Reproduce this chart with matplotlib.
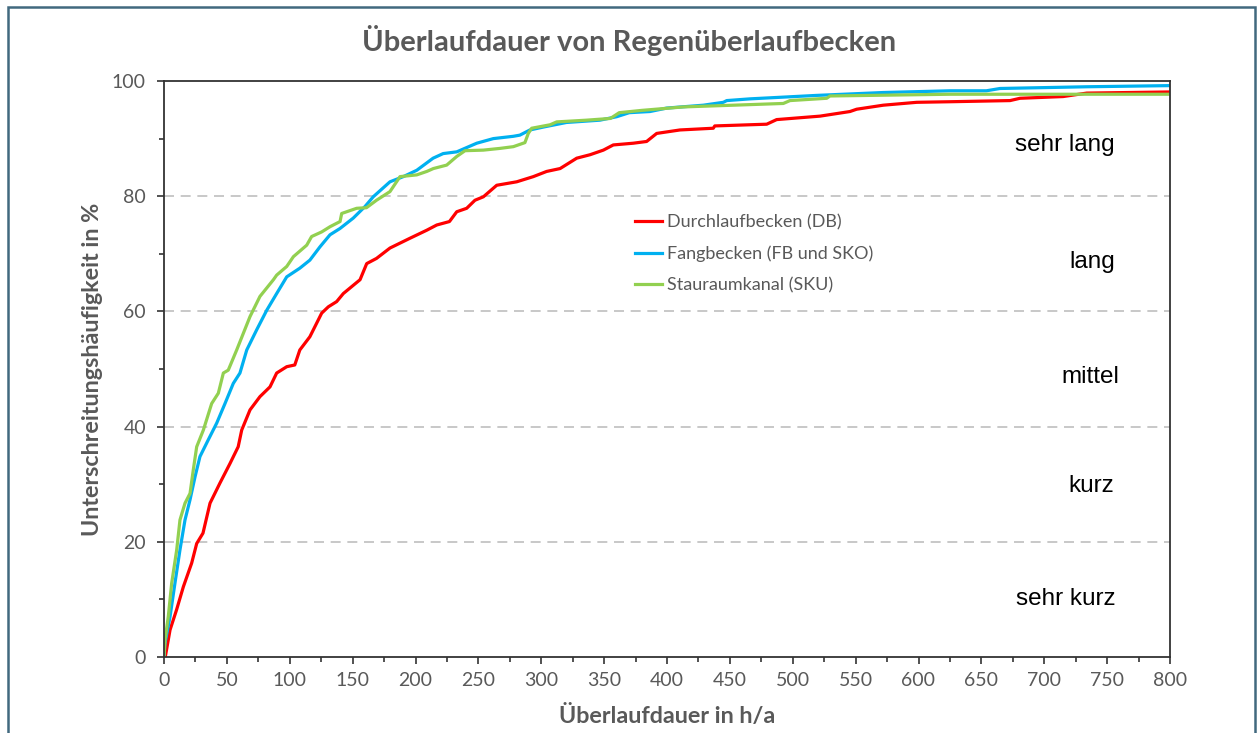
import matplotlib
matplotlib.use("Agg")
import matplotlib.pyplot as plt
from matplotlib.patches import Rectangle
from matplotlib.ticker import MultipleLocator

# Durchlaufbecken (DB)
db_x = [0, 1, 4.8, 10, 15.4, 22, 26, 31, 36.6, 44.5, 52.5, 59, 61.8, 68.4, 76.3, 84.3, 89.6, 97.6, 104, 108,
        116, 125.4, 130.7, 137.3, 142.6, 155.9, 161.2, 169, 179.7, 195.6, 209, 216.9, 227, 232.8, 240.7, 247.3,
        254, 264.6, 280.5, 293.7, 304.3, 315, 328.2, 338.8, 349.4, 357.3, 373.2, 383.8, 391.8, 410.3, 436.8,
        438, 479.3, 487.2, 521.7, 545.5, 550.8, 572, 598.6, 625, 672.8, 680.7, 715, 733.8, 800]
db_y = [0, 0, 4.7, 8.2, 12.2, 16.3, 19.7, 21.5, 26.7, 30.2, 33.6, 36.5, 39.4, 42.9, 45.2, 46.9, 49.3, 50.4, 50.7, 53.3,
        55.6, 59.7, 60.8, 61.7, 63.1, 65.5, 68.3, 69.2, 71, 72.7, 74.1, 75, 75.6, 77.3, 77.9, 79.3,
        79.9, 81.9, 82.5, 83.4, 84.3, 84.8, 86.6, 87.2, 88, 88.9, 89.2, 89.5, 90.9, 91.5, 91.8,
        92.2, 92.5, 93.3, 93.9, 94.7, 95.1, 95.8, 96.3, 96.4, 96.6, 97, 97.3, 97.9, 98.1]

# Fangbecken (FB und SKO)
fb_x = [0, 0.8, 4.8, 8.7, 12.7, 16.7, 20.7, 24.7, 28.6, 35.2, 41.9, 48.5, 55.1, 60.4, 65.8, 73.7, 81.7, 89.6, 97.6,
        108, 116, 124, 132, 140, 150.5, 159.8, 166.4, 179.7, 190.3, 201, 214, 222, 232.8, 248.7, 261.9, 277.8,
        283, 291, 301.6, 320, 346.7, 360, 370, 386.5, 399.8, 428.9, 444.8, 447.5, 466, 519, 572, 625, 654,
        664.8, 733.8, 800]
fb_y = [0, 2.4, 7, 12.8, 18.6, 23.8, 27.3, 31.3, 34.8, 37.7, 40.6, 44, 47.5, 49.3, 53.3, 56.8, 60.2, 63.1, 66,
        67.5, 68.9, 71.2, 73.3, 74.4, 76.2, 78.2, 79.9, 82.5, 83.4, 84.5, 86.6, 87.4, 87.7, 89.2, 90, 90.4,
        90.6, 91.5, 92, 92.8, 93.2, 93.8, 94.5, 94.7, 95.3, 95.8, 96.3, 96.6, 96.9, 97.5, 98, 98.3, 98.3,
        98.7, 99, 99.2]

# Stauraumkanal (SKU)
sku_x = [0, 0.8, 3.4, 6.1, 10.1, 12.7, 16.7, 20.7, 23.3, 26, 31.3, 37.9, 43.2, 47.2, 51.1, 57.8, 68.4, 76.3, 87,
         89.6, 97.6, 102.9, 113.5, 117.4, 125.4, 132, 140, 141.3, 153.2, 161, 169, 179.7, 187.7, 201, 209,
         214.2, 224.8, 232.8, 239.4, 254, 267.2, 277.8, 287, 289.7, 292.4, 307, 312.3, 336, 355, 362, 380,
         413, 492.5, 497.8, 527, 529.6, 625, 800]
sku_y = [0, 3, 7, 12.8, 18.6, 23.8, 26.7, 28.4, 32.5, 36.5, 39.4, 44, 45.8, 49.3, 49.8, 53.3, 59.1, 62.6, 65.5,
         66.3, 67.8, 69.5, 71.5, 73, 73.8, 74.7, 75.6, 77, 77.9, 78, 79.3, 80.8, 83.4, 83.7, 84.3,
         84.8, 85.4, 86.9, 87.9, 88, 88.3, 88.6, 89.3, 90.9, 91.8, 92.4, 92.9, 93.2, 93.5, 94.5, 94.9,
         95.5, 96.1, 96.6, 97, 97.4, 97.7, 97.7]

klassen = ["sehr lang", "lang", "mittel", "kurz", "sehr kurz"]
klassen_x = [716, 738, 737, 737, 717]
klassen_y = [88.9, 68.6, 48.6, 29.7, 10.0]

grey = "#595959"
plt.rcParams["font.family"] = ["Lato", "DejaVu Sans"]

fig = plt.figure(figsize=(12.58, 7.33), dpi=100)
ax = fig.add_axes([164 / 1258, 1 - 657 / 733, 1006 / 1258, 576 / 733])

ax.plot(db_x, db_y, color="#ff0000", lw=2.3, label="Durchlaufbecken (DB)")
ax.plot(fb_x, fb_y, color="#00b0f0", lw=2.3, label="Fangbecken (FB und SKO)")
ax.plot(sku_x, sku_y, color="#92d050", lw=2.3, label="Stauraumkanal (SKU)")

ax.set_xlim(0, 800)
ax.set_ylim(0, 100)
ax.xaxis.set_major_locator(MultipleLocator(50))
ax.xaxis.set_minor_locator(MultipleLocator(25))
ax.yaxis.set_major_locator(MultipleLocator(20))
ax.yaxis.set_minor_locator(MultipleLocator(10))
ax.tick_params(which="major", direction="out", length=5, width=1.2, color="#333333",
               labelsize=14, labelcolor=grey)
ax.tick_params(axis="y", which="major", pad=8)
ax.tick_params(axis="x", which="major", pad=6)
ax.tick_params(which="minor", direction="out", length=3.5, width=1.2, color="#333333")
for s in ax.spines.values():
    s.set_color("#333333")
    s.set_linewidth(1.3)

for g in [20, 40, 60, 80]:
    ax.axhline(g, color="#bfbfbf", lw=1.2, ls=(0, (6, 4)), zorder=0)

for t, x, y in zip(klassen, klassen_x, klassen_y):
    ax.text(x, y, t, ha="center", va="center", fontsize=17.5, color="black",
            family="Liberation Sans")

ax.set_xlabel("Überlaufdauer in h/a", fontsize=16.8, fontweight="bold", color=grey)
ax.set_ylabel("Unterschreitungshäufigkeit in %", fontsize=16.8, fontweight="bold", color=grey)
ax.xaxis.set_label_coords(0.5, -0.083)
ax.yaxis.set_label_coords(-0.061, 0.5)

ax.legend(loc="upper left", bbox_to_anchor=(0.459, 0.785), frameon=False, fontsize=13,
          labelcolor=grey, borderpad=0, handlelength=1.5, handletextpad=0.3, labelspacing=0.85)

fig.text(0.5, 1 - 40 / 733, "Überlaufdauer von Regenüberlaufbecken", ha="center", va="center",
         fontsize=21, fontweight="bold", color=grey)

fig.patches.append(Rectangle((8 / 1258, -0.05), 1247 / 1258, 1.05 - 7 / 733, transform=fig.transFigure,
                             fill=False, edgecolor="#41697f", lw=1.8))

fig.savefig("out.png", dpi=100)
